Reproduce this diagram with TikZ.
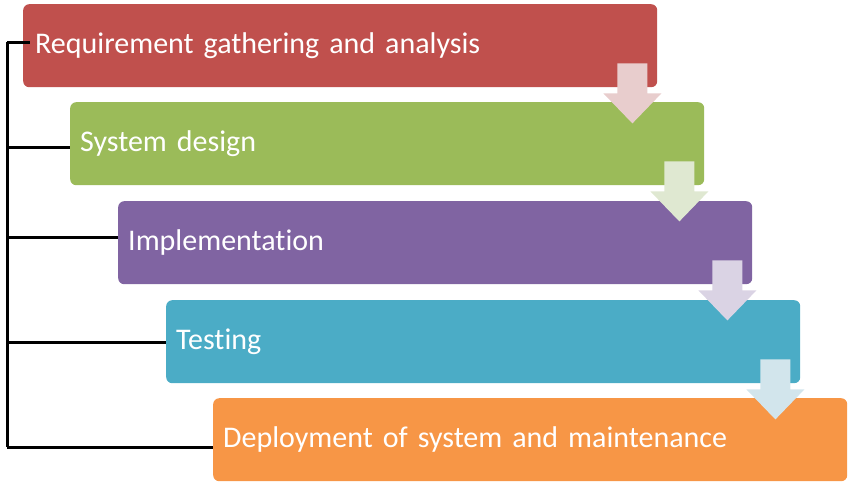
\documentclass[tikz,border=0pt]{standalone}
\usepackage{fontspec}
\setmainfont[Ligatures={NoCommon}]{Carlito}
\usetikzlibrary{calc}
\definecolor{redbox}{HTML}{C0504D}
\definecolor{greenbox}{HTML}{9BBB59}
\definecolor{purplebox}{HTML}{8064A2}
\definecolor{bluebox}{HTML}{4BACC6}
\definecolor{orangebox}{HTML}{F79646}
\definecolor{redarrow}{HTML}{E8CDCD}
\definecolor{greenarrow}{HTML}{DFE8D1}
\definecolor{purplearrow}{HTML}{DAD3E4}
\definecolor{bluearrow}{HTML}{D2E5EC}
% label font with a slightly tighter word space
\newcommand{\phasefont}{\fontsize{30}{36}\selectfont\spaceskip=0.19em\relax}
\begin{document}
\begin{tikzpicture}[x=1pt,y=-1pt,
  phase/.style={rectangle, rounded corners=6pt, anchor=north west,
    minimum width=634pt, minimum height=83pt, text width=614pt,
    inner xsep=10pt, align=left, text=white, font=\phasefont},
  link/.style={draw=black, line width=3pt}]
\useasboundingbox (0,0) rectangle (850,485);

% phase boxes, stepped down and to the right
\node[phase, fill=redbox]    (p1) at (23,4)    {\hspace{2pt}Requirement gathering and analysis};
\node[phase, fill=greenbox]  (p2) at (70,102)  {System design};
\node[phase, fill=purplebox] (p3) at (118,201) {Implementation};
\node[phase, fill=bluebox]   (p4) at (166,300) {Testing};
\node[phase, fill=orangebox] (p5) at (213,398) {Deployment of system and maintenance};

% block arrows between consecutive phases
\newcommand{\flowarrow}[2]{%
  \coordinate (tip) at ($(#1.south east)+(-25,36)$);
  \fill[#2] ($(tip)+(-15,-60)$) -- ($(tip)+(15,-60)$) -- ($(tip)+(15,-30)$)
    -- ($(tip)+(29,-30)$) -- (tip) -- ($(tip)+(-29,-30)$)
    -- ($(tip)+(-15,-30)$) -- cycle;}
\flowarrow{p1}{redarrow}
\flowarrow{p2}{greenarrow}
\flowarrow{p3}{purplearrow}
\flowarrow{p4}{bluearrow}

% bracket joining all phases on the left
\coordinate (top) at (7,42);
\coordinate (bottom) at (7,447);
\draw[link] (top) -- (bottom);
\draw[link] (top) -- ($(p1.west |- top)+(7,0)$);
\draw[link] (7,147) -- (p2.west |- 0,147);
\draw[link] (7,237) -- (p3.west |- 0,237);
\draw[link] (7,342) -- (p4.west |- 0,342);
\draw[link] (bottom) -- (p5.west |- bottom);
\end{tikzpicture}
\end{document}
